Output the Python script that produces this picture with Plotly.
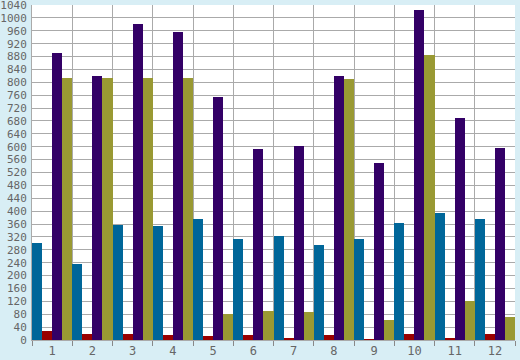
import plotly.graph_objects as go

categories = ["1", "2", "3", "4", "5", "6", "7", "8", "9", "10", "11", "12"]
series_blue = [301, 236, 357, 354, 376, 314, 323, 295, 314, 363, 394, 376]
series_red = [29, 19, 19, 14, 12, 15, 7, 15, 3, 19, 4, 19]
series_purple = [892, 820, 981, 956, 754, 593, 602, 820, 550, 1024, 689, 596]
series_olive = [813, 813, 813, 813, 81, 90, 87, 810, 62, 885, 121, 71]
y_ticks = list(range(0, 1041, 40))

colors = ["#006699", "#990000", "#330066", "#999933"]
names = ["Series 1", "Series 2", "Series 3", "Series 4"]

fig = go.Figure()
for name, vals, c in zip(names, [series_blue, series_red, series_purple, series_olive], colors):
    fig.add_trace(go.Bar(x=categories, y=vals, name=name, marker=dict(color=c, line=dict(width=0))))

fig.update_layout(
    width=520, height=360,
    margin=dict(l=32, r=5, t=5, b=20),
    paper_bgcolor="#d8eef5",
    plot_bgcolor="#ffffff",
    barmode="group", bargap=0, bargroupgap=0,
    showlegend=False,
    font=dict(family="DejaVu Sans Mono", size=11, color="#666666"),
)
fig.update_xaxes(
    type="category", tickson="boundaries", showgrid=True, gridcolor="#aaaaaa", gridwidth=1,
    ticks="outside", ticklen=5, tickcolor="#888888", showline=True, linecolor="#aaaaaa",
    tickfont=dict(size=12, color="#666666"), automargin=False,
)
fig.update_yaxes(
    range=[0, 1040], tickmode="array", tickvals=y_ticks, ticktext=[str(v) for v in y_ticks],
    showgrid=True, gridcolor="#aaaaaa", gridwidth=1,
    showline=True, linecolor="#aaaaaa", ticks="", ticklabelstandoff=2,
    ticklabeloverflow="allow",
    tickfont=dict(size=11, color="#666666"), zeroline=False, automargin=False,
)
fig.write_html(
    "out.html",
    config={"displayModeBar": False},
    post_script="document.body.style.margin='0';document.body.style.background='#d8eef5';",
)
